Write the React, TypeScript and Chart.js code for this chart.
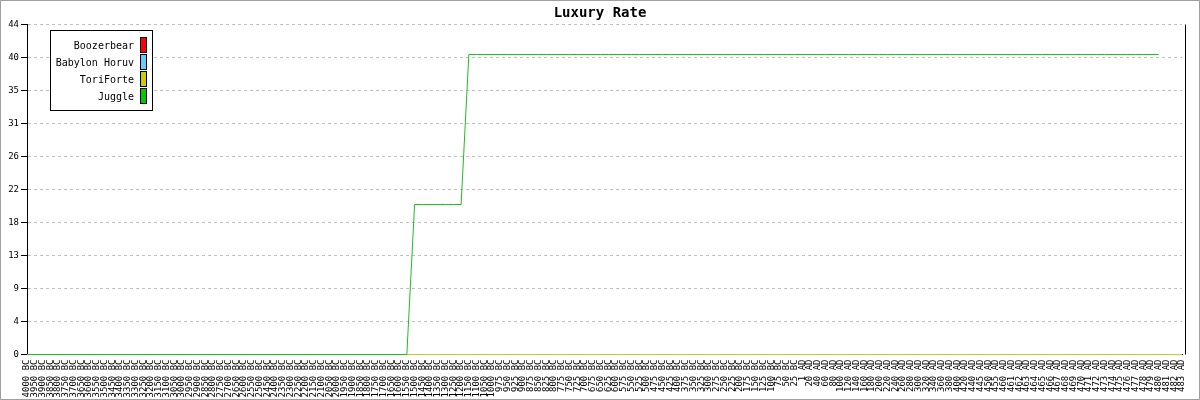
import React, { useEffect, useRef } from "react";
import { Chart, registerables } from "chart.js";

Chart.register(...registerables);

const TITLE = "Luxury Rate";

const categories: string[] = [
  "4000 BC","3950 BC","3900 BC","3850 BC","3800 BC","3750 BC","3700 BC","3650 BC","3600 BC","3550 BC",
  "3500 BC","3450 BC","3400 BC","3350 BC","3300 BC","3250 BC","3200 BC","3150 BC","3100 BC","3050 BC",
  "3000 BC","2950 BC","2900 BC","2850 BC","2800 BC","2750 BC","2700 BC","2650 BC","2600 BC","2550 BC",
  "2500 BC","2450 BC","2400 BC","2350 BC","2300 BC","2250 BC","2200 BC","2150 BC","2100 BC","2050 BC",
  "2000 BC","1950 BC","1900 BC","1850 BC","1800 BC","1750 BC","1700 BC","1650 BC","1600 BC","1550 BC",
  "1500 BC","1450 BC","1400 BC","1350 BC","1300 BC","1250 BC","1200 BC","1150 BC","1100 BC","1050 BC",
  "1000 BC","975 BC","950 BC","925 BC","900 BC","875 BC","850 BC","825 BC","800 BC","775 BC",
  "750 BC","725 BC","700 BC","675 BC","650 BC","625 BC","600 BC","575 BC","550 BC","525 BC",
  "500 BC","475 BC","450 BC","425 BC","400 BC","375 BC","350 BC","325 BC","300 BC","275 BC",
  "250 BC","225 BC","200 BC","175 BC","150 BC","125 BC","100 BC","75 BC","50 BC","25 BC",
  "1 AD","20 AD","40 AD","60 AD","80 AD","100 AD","120 AD","140 AD","160 AD","180 AD",
  "200 AD","220 AD","240 AD","260 AD","280 AD","300 AD","320 AD","340 AD","360 AD","380 AD",
  "400 AD","420 AD","440 AD","445 AD","450 AD","455 AD","460 AD","461 AD","462 AD","463 AD",
  "464 AD","465 AD","466 AD","467 AD","468 AD","469 AD","470 AD","471 AD","472 AD","473 AD",
  "474 AD","475 AD","476 AD","477 AD","478 AD","479 AD","480 AD","481 AD","482 AD","483 AD",
];

// 150 categories
const boozerbear: (number | null)[] = [
  0,0,0,0,0,0,0,0,0,0, 0,0,0,0,0,0,0,0,0,0, 0,0,0,0,0,0,0,0,0,0, 0,0,0,0,0,0,0,0,0,0,
  0,0,0,0,0,0,0,0,0,0, 0,0,0,0,0,0,0,0,0,0, 0,0,0,0,0,0,0,0,0,0, 0,0,0,0,0,0,0,0,0,0,
  0,0,0,0,0,0,0,0,0,0, 0,0,0,0,0,0,0,0,0,0, 0,0,0,0,0,0,0,0,0,0, 0,0,0,0,0,0,0,0,0,0,
  0,0,0,0,0,0,0,0,0,0, 0,0,0,0,0,0,0,0,0,0, 0,0,0,0,0,0,0,0,0,0,
];
const babylonHoruv: (number | null)[] = [
  0,0,0,0,0,0,0,0,0,0, 0,0,0,0,0,0,0,0,0,0, 0,0,0,0,0,0,0,0,0,0, 0,0,0,0,0,0,0,0,0,0,
  0,0,0,0,0,0,0,0,0,0, 0,0,0,0,0,0,0,0,0,0, 0,0,0,0,0,0,0,0,0,0, 0,0,0,0,0,0,0,0,0,0,
  0,0,0,0,0,0,0,0,0,0, 0,0,0,0,0,0,0,0,0,0, 0,0,0,0,0,0,0,0,0,0, 0,0,0,0,0,0,0,0,0,0,
  0,0,0,0,0,0,0,0,0,0, 0,0,0,0,0,0,0,0,0,0, 0,0,0,0,0,0,0,0,0,0,
];
const toriForte: (number | null)[] = [
  0,0,0,0,0,0,0,0,0,0, 0,0,0,0,0,0,0,0,0,0, 0,0,0,0,0,0,0,0,0,0, 0,0,0,0,0,0,0,0,0,0,
  0,0,0,0,0,0,0,0,0,0, 0,0,0,0,0,0,0,0,0,0, 0,0,0,0,0,0,0,0,0,0, 0,0,0,0,0,0,0,0,0,0,
  0,0,0,0,0,0,0,0,0,0, 0,0,0,0,0,0,0,0,0,0, 0,0,0,0,0,0,0,0,0,0, 0,0,0,0,0,0,0,0,0,0,
  0,0,0,0,0,0,0,0,0,0, 0,0,0,0,0,0,0,0,0,0, 0,0,0,0,0,0,0,0,0,0,
];
const juggle: (number | null)[] = [
  0,0,0,0,0,0,0,0,0,0, 0,0,0,0,0,0,0,0,0,0, 0,0,0,0,0,0,0,0,0,0, 0,0,0,0,0,0,0,0,0,0,
  0,0,0,0,0,0,0,0,0,0, 20,20,20,20,20,20,20,40,40,40, 40,40,40,40,40,40,40,40,40,40, 40,40,40,40,40,40,40,40,40,40,
  40,40,40,40,40,40,40,40,40,40, 40,40,40,40,40,40,40,40,40,40, 40,40,40,40,40,40,40,40,40,40, 40,40,40,40,40,40,40,40,40,40,
  40,40,40,40,40,40,40,40,40,40, 40,40,40,40,40,40,40,40,40,40, 40,40,40,40,40,40,40,null,null,null,
];

const seriesNames = ["Boozerbear", "Babylon Horuv", "ToriForte", "Juggle"];
const seriesColors = ["#ff0000", "#66ccff", "#cccc00", "#00cc00"];
const lineColors = ["#ff0000", "#66ccff", "#c8c830", "#22bb22"];
const yTickValues = [0, 4.4, 8.8, 13.2, 17.6, 22, 26.4, 30.8, 35.2, 39.6, 44];

const MONO = "'DejaVu Sans Mono', monospace";

const decorPlugin = {
  id: "decor",
  afterDraw(chart: any) {
    const ctx = chart.ctx as CanvasRenderingContext2D;
    const area = chart.chartArea;
    ctx.save();
    // outer frame
    ctx.strokeStyle = "#a0a0a0";
    ctx.lineWidth = 1;
    ctx.strokeRect(0.5, 0.5, 1199, 399);
    // right axis line
    ctx.strokeStyle = "#000";
    ctx.beginPath();
    ctx.moveTo(1185.5, area.top);
    ctx.lineTo(1185.5, area.bottom);
    ctx.stroke();
    // title
    ctx.fillStyle = "#000";
    ctx.font = `bold 14px ${MONO}`;
    ctx.textAlign = "center";
    ctx.textBaseline = "middle";
    ctx.fillText(TITLE, 600, 13);
    // legend
    ctx.fillStyle = "#fff";
    ctx.fillRect(50.5, 30.5, 102, 80);
    ctx.strokeStyle = "#000";
    ctx.strokeRect(50.5, 30.5, 102, 80);
    ctx.font = `10px ${MONO}`;
    ctx.textAlign = "right";
    for (let i = 0; i < seriesNames.length; i++) {
      const cy = 46 + i * 17;
      ctx.fillStyle = "#000";
      ctx.fillText(seriesNames[i], 134, cy);
      ctx.fillStyle = seriesColors[i];
      ctx.fillRect(140.5, cy - 8.5, 6, 15);
      ctx.strokeStyle = "#000";
      ctx.strokeRect(140.5, cy - 8.5, 6, 15);
    }
    ctx.restore();
  },
};

export default function App() {
  const ref = useRef<HTMLCanvasElement | null>(null);
  useEffect(() => {
    document.body.style.margin = "0";
    if (!ref.current) return;
    const series = [boozerbear, babylonHoruv, toriForte, juggle];
    const orders = [3, 2, 1, 0];
    const chart = new Chart(ref.current, {
      type: "line",
      data: {
        labels: categories,
        datasets: series.map((d, i) => ({
          label: seriesNames[i],
          data: d,
          borderColor: lineColors[i],
          backgroundColor: seriesColors[i],
          borderWidth: 1,
          pointRadius: 0,
          fill: false,
          tension: 0,
          order: orders[i],
          clip: false,
        })),
      },
      options: {
        responsive: false,
        animation: false,
        layout: { padding: { top: 24.5, right: 18, left: 0, bottom: 0 } },
        plugins: {
          legend: { display: false },
          title: { display: false },
          tooltip: { enabled: false },
        },
        scales: {
          x: {
            type: "category",
            offset: false,
            grid: { display: true, drawOnChartArea: false, drawTicks: false },
            border: { display: true, color: "#000" },
            ticks: {
              autoSkip: false,
              minRotation: 90,
              maxRotation: 90,
              padding: 5,
              color: "#000",
              font: { family: MONO, size: 9 },
            },
            afterFit: (scale: any) => {
              scale.height = 45.5;
            },
          },
          y: {
            min: 0,
            max: 44,
            grid: {
              color: "#c0c0c0",
              tickColor: "#000",
              tickLength: 6,
              tickBorderDash: [],
            },
            border: { display: true, color: "#000", dash: [3, 3] },
            afterBuildTicks: (scale: any) => {
              scale.ticks = yTickValues.map((v) => ({ value: v }));
            },
            ticks: {
              padding: 2,
              color: "#000",
              font: { family: MONO, size: 9 },
              callback: (v: any) => String(Math.round(Number(v))),
            },
            afterFit: (scale: any) => {
              scale.width = 27;
            },
          },
        },
      },
      plugins: [decorPlugin],
    } as any);
    return () => chart.destroy();
  }, []);
  return (
    <div style={{ width: 1200, height: 400 }}>
      <canvas ref={ref} width={1200} height={400} style={{ display: "block" }} />
    </div>
  );
}
